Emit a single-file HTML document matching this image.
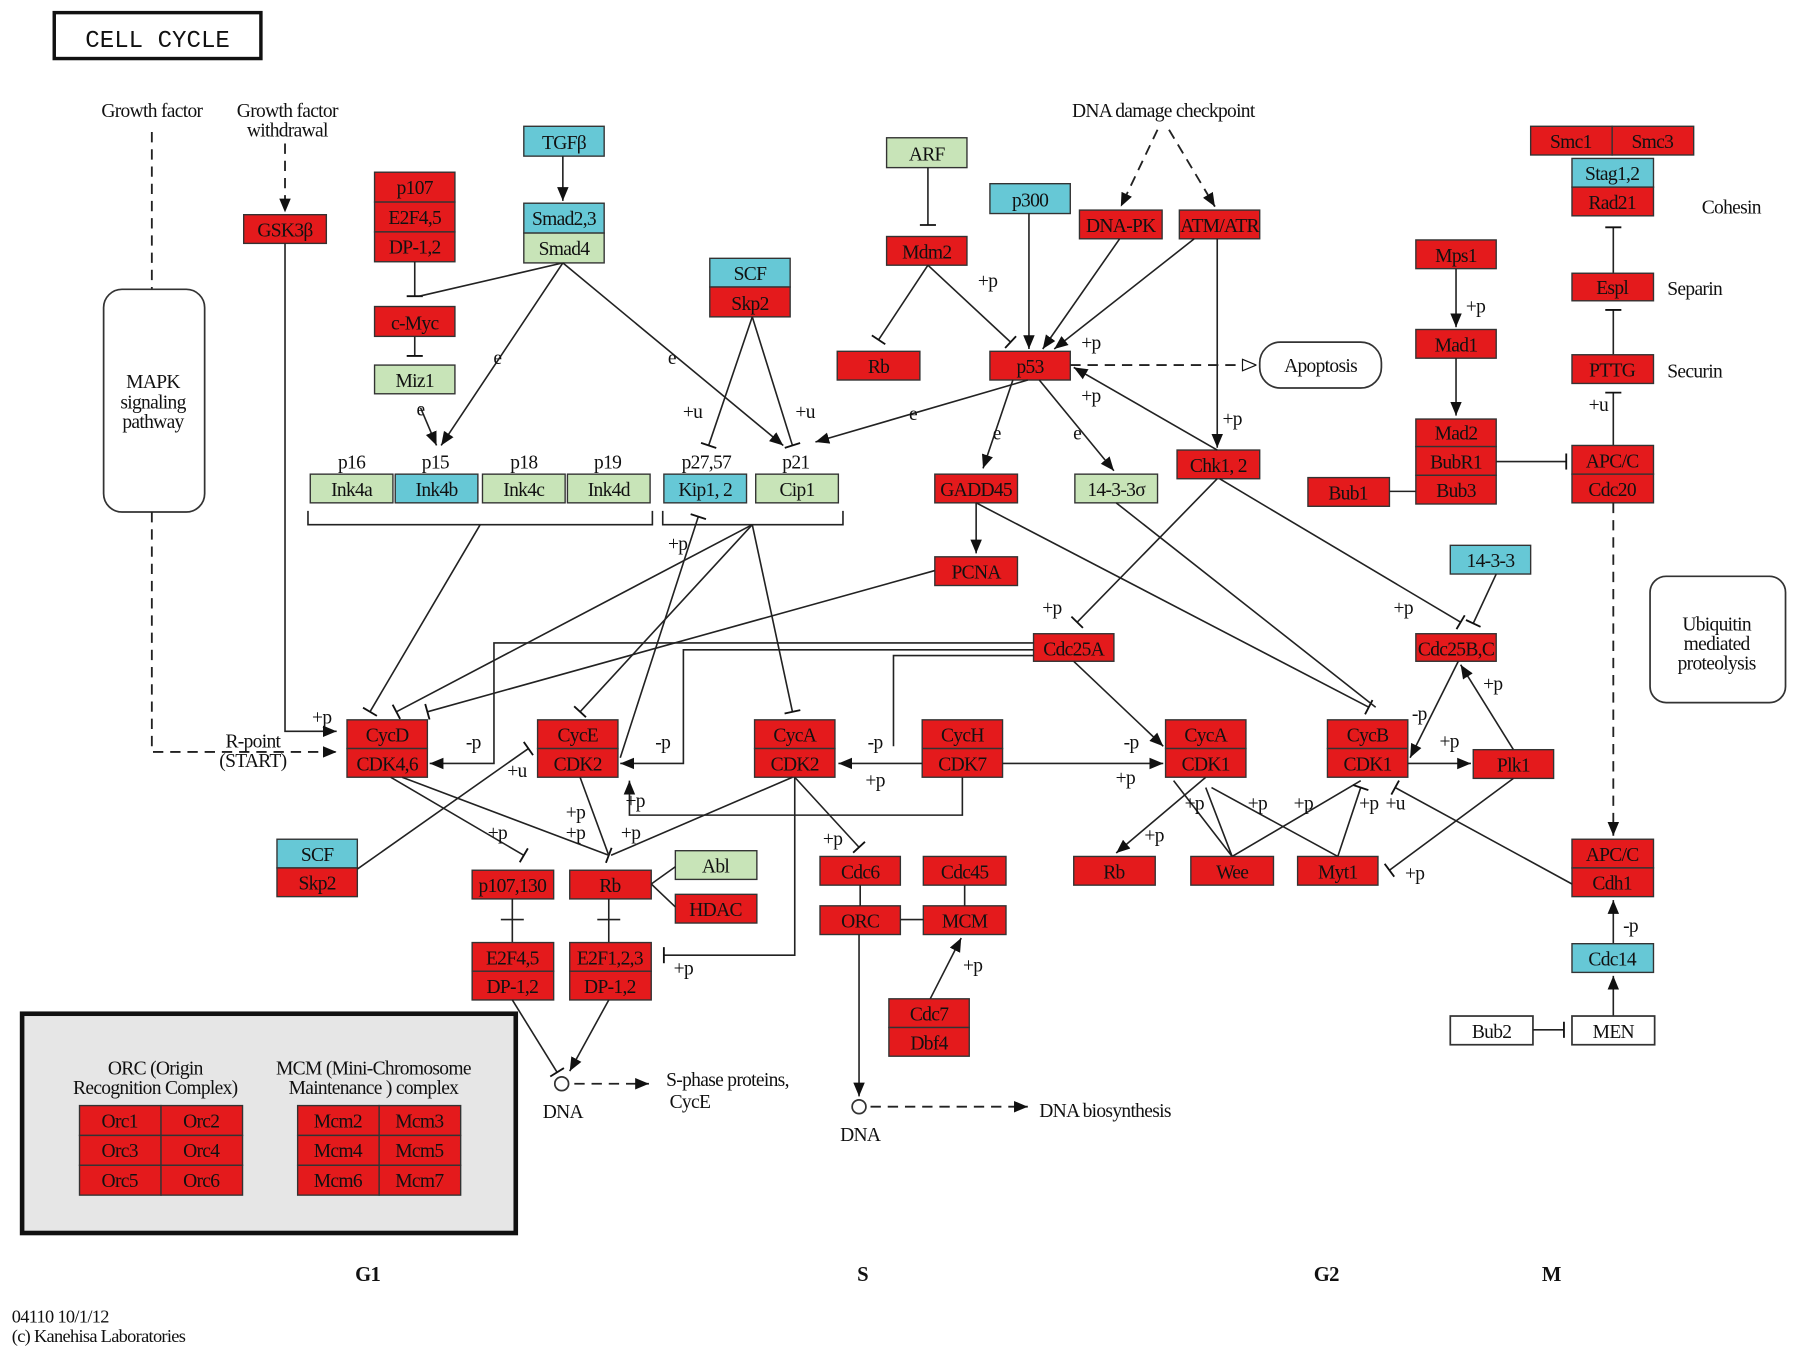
<!DOCTYPE html>
<html><head><meta charset="utf-8"><style>
html,body{margin:0;padding:0;background:#fff}
svg{display:block}
text{font-family:"Liberation Serif",serif;font-size:17px;fill:#111;letter-spacing:-0.6px}
.c{text-anchor:middle}
.r{fill:#e41a1c;stroke:#333;stroke-width:1.2}
.b{fill:#66c8d6;stroke:#333;stroke-width:1.2}
.g{fill:#c8e4b8;stroke:#333;stroke-width:1.2}
.w{fill:#fff;stroke:#333;stroke-width:1.5}
.l{stroke:#222;stroke-width:1.4;fill:none}
.d{stroke:#222;stroke-width:1.6;fill:none;stroke-dasharray:9,6}
</style></head><body>
<svg width="1795" height="1357" viewBox="0 0 1563 1182" xmlns="http://www.w3.org/2000/svg">
<defs>
<marker id="a" viewBox="-12 -6 12 12" markerWidth="12" markerHeight="12" refX="0" refY="0" orient="auto" markerUnits="userSpaceOnUse"><path d="M-12,-5 L0,0 L-12,5z" fill="#111"/></marker>
<marker id="o" viewBox="-14 -7 14 14" markerWidth="14" markerHeight="14" refX="0" refY="0" orient="auto" markerUnits="userSpaceOnUse"><path d="M-12,-5 L0,0 L-12,5z" fill="#fff" stroke="#111"/></marker>
<marker id="t" viewBox="-2 -8 4 16" markerWidth="4" markerHeight="16" refX="0" refY="0" orient="auto" markerUnits="userSpaceOnUse"><path d="M0,-7 L0,7" stroke="#111" stroke-width="1.6"/></marker>
</defs>

<rect x="47" y="11" width="180" height="40" fill="#fff" stroke="#111" stroke-width="3"/>
<text x="137" y="41" class="c" style="font-family:'Liberation Mono',monospace;font-size:21px;letter-spacing:0">CELL CYCLE</text>

<text x="132" y="102" class="c">Growth factor</text>
<text x="250" y="102" class="c">Growth factor</text>
<text x="250" y="119" class="c">withdrawal</text>
<path class="d" d="M132,115 V252"/>
<rect x="90" y="252" width="88" height="194" rx="16" class="w"/>
<text x="133" y="338" class="c">MAPK</text><text x="133" y="356" class="c">signaling</text><text x="133" y="373" class="c">pathway</text>
<path class="d" d="M132,446 V655 H293" marker-end="url(#a)"/>
<text x="220" y="651" class="c">R-point</text><text x="220" y="668" class="c">(START)</text>
<path class="d" d="M248,125 V185" marker-end="url(#a)"/>
<rect x="212" y="187" width="72" height="25" class="r"/><text x="248" y="206" class="c">GSK3β</text>
<path class="l" d="M248,212 V637 H293" marker-end="url(#a)"/><text x="280" y="630" class="c">+p</text>

<rect x="326" y="150" width="70" height="26" class="r"/><text x="361" y="169" class="c">p107</text>
<rect x="326" y="176" width="70" height="26" class="r"/><text x="361" y="195" class="c">E2F4,5</text>
<rect x="326" y="202" width="70" height="26" class="r"/><text x="361" y="221" class="c">DP-1,2</text>
<path class="l" d="M361,228 V258" marker-end="url(#t)"/>
<path class="l" d="M490,229 L365,258"/>
<rect x="326" y="267" width="70" height="26" class="r"/><text x="361" y="287" class="c">c-Myc</text>
<path class="l" d="M361,293 V310" marker-end="url(#t)"/>
<rect x="326" y="318" width="70" height="25" class="g"/><text x="361" y="337" class="c">Miz1</text>
<path class="l" d="M366,355 L380,388" marker-end="url(#a)"/><text x="366" y="362" class="c">e</text>

<rect x="456" y="110" width="70" height="26" class="b"/><text x="491" y="130" class="c">TGFβ</text>
<path class="l" d="M490,136 V175" marker-end="url(#a)"/>
<rect x="456" y="177" width="70" height="26" class="b"/><text x="491" y="196" class="c">Smad2,3</text>
<rect x="456" y="203" width="70" height="26" class="g"/><text x="491" y="222" class="c">Smad4</text>
<path class="l" d="M490,229 L384,388" marker-end="url(#a)"/><text x="433" y="317" class="c">e</text>
<path class="l" d="M490,229 L682,388" marker-end="url(#a)"/><text x="585" y="317" class="c">e</text>

<text x="306" y="408" class="c">p16</text><text x="379" y="408" class="c">p15</text><text x="456" y="408" class="c">p18</text><text x="529" y="408" class="c">p19</text>
<rect x="270" y="413" width="72" height="25" class="g"/><text x="306" y="432" class="c">Ink4a</text>
<rect x="344" y="413" width="72" height="25" class="b"/><text x="380" y="432" class="c">Ink4b</text>
<rect x="420" y="413" width="72" height="25" class="g"/><text x="456" y="432" class="c">Ink4c</text>
<rect x="494" y="413" width="72" height="25" class="g"/><text x="530" y="432" class="c">Ink4d</text>
<path class="l" d="M268,445 V457 H568 V445"/>
<text x="615" y="408" class="c">p27,57</text><text x="693" y="408" class="c">p21</text>
<rect x="578" y="413" width="72" height="25" class="b"/><text x="614" y="432" class="c">Kip1, 2</text>
<rect x="658" y="413" width="72" height="25" class="g"/><text x="694" y="432" class="c">Cip1</text>
<path class="l" d="M577,445 V457 H734 V445"/>

<rect x="618" y="225" width="70" height="25" class="b"/><text x="653" y="244" class="c">SCF</text>
<rect x="618" y="250" width="70" height="26" class="r"/><text x="653" y="270" class="c">Skp2</text>
<path class="l" d="M655,276 L617,388" marker-end="url(#t)"/><text x="603" y="364" class="c">+u</text>
<path class="l" d="M655,276 L690,388" marker-end="url(#t)"/><text x="701" y="364" class="c">+u</text>

<rect x="772" y="120" width="70" height="26" class="g"/><text x="807" y="140" class="c">ARF</text>
<path class="l" d="M808,146 V196" marker-end="url(#t)"/>
<rect x="772" y="206" width="70" height="25" class="r"/><text x="807" y="225" class="c">Mdm2</text>
<path class="l" d="M808,231 L765,296" marker-end="url(#t)"/>
<path class="l" d="M808,231 L880,298" marker-end="url(#t)"/><text x="860" y="250" class="c">+p</text>
<rect x="729" y="306" width="72" height="25" class="r"/><text x="765" y="325" class="c">Rb</text>
<rect x="862" y="160" width="70" height="26" class="b"/><text x="897" y="180" class="c">p300</text>
<path class="l" d="M896,186 V304" marker-end="url(#a)"/>
<rect x="862" y="306" width="70" height="25" class="r"/><text x="897" y="325" class="c">p53</text>
<text x="1013" y="102" class="c">DNA damage checkpoint</text>
<path class="d" d="M1008,113 L976,180" marker-end="url(#a)"/>
<path class="d" d="M1018,113 L1058,180" marker-end="url(#a)"/>
<rect x="940" y="183" width="72" height="25" class="r"/><text x="976" y="202" class="c">DNA-PK</text>
<rect x="1027" y="183" width="70" height="25" class="r"/><text x="1062" y="202" class="c">ATM/ATR</text>
<path class="l" d="M975,208 L908,304" marker-end="url(#a)"/>
<path class="l" d="M1040,208 L918,304" marker-end="url(#a)"/><text x="950" y="304" class="c">+p</text>
<path class="l" d="M1060,208 V390" marker-end="url(#a)"/><text x="1073" y="370" class="c">+p</text>
<rect x="1025" y="392" width="72" height="25" class="r"/><text x="1061" y="411" class="c">Chk1, 2</text>
<path class="d" d="M932,318 H1094" marker-end="url(#o)"/>
<rect x="1097" y="298" width="106" height="40" rx="18" class="w"/><text x="1150" y="324" class="c">Apoptosis</text>
<path class="l" d="M1060,392 L935,320" marker-end="url(#a)"/><text x="950" y="350" class="c">+p</text>
<path class="l" d="M895,331 L710,385" marker-end="url(#a)"/><text x="795" y="366" class="c">e</text>
<path class="l" d="M882,331 L856,408" marker-end="url(#a)"/><text x="868" y="383" class="c">e</text>
<path class="l" d="M905,331 L970,410" marker-end="url(#a)"/><text x="938" y="383" class="c">e</text>
<rect x="814" y="413" width="72" height="25" class="r"/><text x="850" y="432" class="c">GADD45</text>
<rect x="936" y="413" width="72" height="25" class="g"/><text x="972" y="432" class="c">14-3-3σ</text>
<path class="l" d="M850,438 V482" marker-end="url(#a)"/>
<rect x="814" y="485" width="72" height="25" class="r"/><text x="850" y="504" class="c">PCNA</text>
<path class="l" d="M814,497 L372,620" marker-end="url(#t)"/>
<path class="l" d="M850,438 L1192,616" marker-end="url(#t)"/>
<path class="l" d="M972,438 L1198,616"/>
<path class="l" d="M1060,417 L938,542" marker-end="url(#t)"/><text x="916" y="535" class="c">+p</text>
<path class="l" d="M1062,417 L1272,542" marker-end="url(#t)"/><text x="1222" y="535" class="c">+p</text>
<rect x="900" y="552" width="70" height="24" class="r"/><text x="935" y="571" class="c">Cdc25A</text>
<rect x="1233" y="552" width="70" height="24" class="r"/><text x="1268" y="571" class="c">Cdc25B,C</text>
<rect x="1263" y="475" width="70" height="25" class="b"/><text x="1298" y="494" class="c">14-3-3</text>
<path class="l" d="M1303,500 L1283,543" marker-end="url(#t)"/>

<rect x="1333" y="110" width="71" height="25" class="r"/><text x="1368" y="129" class="c">Smc1</text>
<rect x="1404" y="110" width="71" height="25" class="r"/><text x="1439" y="129" class="c">Smc3</text>
<rect x="1369" y="138" width="71" height="25" class="b"/><text x="1404" y="157" class="c">Stag1,2</text>
<rect x="1369" y="163" width="71" height="25" class="r"/><text x="1404" y="182" class="c">Rad21</text>
<text x="1482" y="186">Cohesin</text>
<path class="l" d="M1405,238 V198" marker-end="url(#t)"/>
<rect x="1369" y="238" width="71" height="24" class="r"/><text x="1404" y="256" class="c">Espl</text><text x="1452" y="257">Separin</text>
<path class="l" d="M1405,309 V270" marker-end="url(#t)"/>
<rect x="1369" y="309" width="71" height="25" class="r"/><text x="1404" y="328" class="c">PTTG</text><text x="1452" y="329">Securin</text>
<path class="l" d="M1405,388 V342" marker-end="url(#t)"/><text x="1392" y="358" class="c">+u</text>
<rect x="1369" y="388" width="71" height="25" class="r"/><text x="1404" y="407" class="c">APC/C</text>
<rect x="1369" y="413" width="71" height="25" class="r"/><text x="1404" y="432" class="c">Cdc20</text>
<rect x="1233" y="209" width="70" height="25" class="r"/><text x="1268" y="228" class="c">Mps1</text>
<path class="l" d="M1268,234 V285" marker-end="url(#a)"/><text x="1285" y="272" class="c">+p</text>
<rect x="1233" y="287" width="70" height="25" class="r"/><text x="1268" y="306" class="c">Mad1</text>
<path class="l" d="M1268,312 V362" marker-end="url(#a)"/>
<rect x="1233" y="365" width="70" height="24" class="r"/><text x="1268" y="383" class="c">Mad2</text>
<rect x="1233" y="389" width="70" height="25" class="r"/><text x="1268" y="408" class="c">BubR1</text>
<rect x="1233" y="414" width="70" height="25" class="r"/><text x="1268" y="433" class="c">Bub3</text>
<rect x="1139" y="416" width="71" height="25" class="r"/><text x="1174" y="435" class="c">Bub1</text>
<path class="l" d="M1210,428 H1233"/>
<path class="l" d="M1303,402 H1364" marker-end="url(#t)"/>
<rect x="1437" y="502" width="118" height="110" rx="14" class="w"/>
<text x="1495" y="549" class="c">Ubiquitin</text><text x="1495" y="566" class="c">mediated</text><text x="1495" y="583" class="c">proteolysis</text>
<path class="d" d="M1405,438 V728" marker-end="url(#a)"/>
<rect x="1369" y="731" width="71" height="25" class="r"/><text x="1404" y="750" class="c">APC/C</text>
<rect x="1369" y="756" width="71" height="25" class="r"/><text x="1404" y="775" class="c">Cdh1</text>
<path class="l" d="M1405,822 V784" marker-end="url(#a)"/><text x="1420" y="812" class="c">-p</text>
<rect x="1369" y="822" width="71" height="25" class="b"/><text x="1404" y="841" class="c">Cdc14</text>
<path class="l" d="M1405,885 V850" marker-end="url(#a)"/>
<rect x="1369" y="885" width="72" height="25" class="w"/><text x="1405" y="904" class="c">MEN</text>
<rect x="1263" y="885" width="72" height="25" class="w"/><text x="1299" y="904" class="c">Bub2</text>
<path class="l" d="M1335,897 H1362" marker-end="url(#t)"/>

<!-- CDK row -->
<rect x="302" y="627" width="70" height="25" class="r"/><text x="337" y="646" class="c">CycD</text>
<rect x="302" y="652" width="70" height="25" class="r"/><text x="337" y="671" class="c">CDK4,6</text>
<rect x="468" y="627" width="70" height="25" class="r"/><text x="503" y="646" class="c">CycE</text>
<rect x="468" y="652" width="70" height="25" class="r"/><text x="503" y="671" class="c">CDK2</text>
<rect x="657" y="627" width="70" height="25" class="r"/><text x="692" y="646" class="c">CycA</text>
<rect x="657" y="652" width="70" height="25" class="r"/><text x="692" y="671" class="c">CDK2</text>
<rect x="803" y="627" width="70" height="25" class="r"/><text x="838" y="646" class="c">CycH</text>
<rect x="803" y="652" width="70" height="25" class="r"/><text x="838" y="671" class="c">CDK7</text>
<rect x="1015" y="627" width="70" height="25" class="r"/><text x="1050" y="646" class="c">CycA</text>
<rect x="1015" y="652" width="70" height="25" class="r"/><text x="1050" y="671" class="c">CDK1</text>
<rect x="1156" y="627" width="70" height="25" class="r"/><text x="1191" y="646" class="c">CycB</text>
<rect x="1156" y="652" width="70" height="25" class="r"/><text x="1191" y="671" class="c">CDK1</text>
<rect x="1283" y="653" width="70" height="25" class="r"/><text x="1318" y="672" class="c">Plk1</text>

<path class="l" d="M418,457 L322,620" marker-end="url(#t)"/>
<path class="l" d="M655,457 L345,620" marker-end="url(#t)"/>
<path class="l" d="M655,457 L505,620" marker-end="url(#t)"/>
<path class="l" d="M655,457 L690,620" marker-end="url(#t)"/>
<path class="l" d="M540,660 L608,450" marker-end="url(#t)"/><text x="590" y="479" class="c">+p</text>
<path class="l" d="M900,560 H430 V665 H374" marker-end="url(#a)"/><text x="412" y="652" class="c">-p</text>
<path class="l" d="M900,566 H595 V665 H540" marker-end="url(#a)"/><text x="577" y="652" class="c">-p</text>
<path class="l" d="M900,571 H778 V650"/>
<path class="l" d="M803,665 H730" marker-end="url(#a)"/><text x="762" y="652" class="c">-p</text><text x="762" y="685" class="c">+p</text>
<path class="l" d="M873,665 H1013" marker-end="url(#a)"/><text x="980" y="683" class="c">+p</text>
<path class="l" d="M935,576 L1013,650" marker-end="url(#a)"/><text x="985" y="652" class="c">-p</text>
<path class="l" d="M838,677 V710 H548 V680" marker-end="url(#a)"/><text x="553" y="703" class="c">+p</text>
<path class="l" d="M1270,576 L1228,660" marker-end="url(#a)"/><text x="1236" y="627" class="c">-p</text>
<path class="l" d="M1318,653 L1272,579" marker-end="url(#a)"/><text x="1300" y="601" class="c">+p</text>
<path class="l" d="M1226,665 H1281" marker-end="url(#a)"/><text x="1262" y="651" class="c">+p</text>
<path class="l" d="M1050,677 L972,743" marker-end="url(#a)"/><text x="1005" y="733" class="c">+p</text>
<rect x="935" y="746" width="71" height="25" class="r"/><text x="970" y="765" class="c">Rb</text>
<rect x="1037" y="746" width="72" height="25" class="r"/><text x="1073" y="765" class="c">Wee</text>
<rect x="1130" y="746" width="70" height="25" class="r"/><text x="1165" y="765" class="c">Myt1</text>
<path class="l" d="M1073,746 L1022,680 M1073,746 L1050,686 M1073,746 L1185,680 M1165,746 L1055,686 M1165,746 L1185,686" marker-end="url(#t)"/>
<text x="1040" y="705" class="c">+p</text><text x="1095" y="705" class="c">+p</text><text x="1135" y="705" class="c">+p</text><text x="1192" y="705" class="c">+p</text><text x="1215" y="705" class="c">+u</text>
<path class="l" d="M1369,770 L1215,686" marker-end="url(#t)"/>
<path class="l" d="M1318,678 L1210,758" marker-end="url(#t)"/><text x="1232" y="766" class="c">+p</text>

<rect x="241" y="731" width="70" height="25" class="b"/><text x="276" y="750" class="c">SCF</text>
<rect x="241" y="756" width="70" height="25" class="r"/><text x="276" y="775" class="c">Skp2</text>
<path class="l" d="M311,757 L460,652" marker-end="url(#t)"/><text x="450" y="677" class="c">+u</text>
<path class="l" d="M340,677 L456,745" marker-end="url(#t)"/><text x="433" y="731" class="c">+p</text>
<path class="l" d="M350,677 L530,745" marker-end="url(#t)"/>
<path class="l" d="M505,677 L530,745"/><text x="501" y="713" class="c">+p</text><text x="501" y="731" class="c">+p</text>
<path class="l" d="M690,677 L532,745"/><text x="549" y="731" class="c">+p</text>
<path class="l" d="M692,677 L748,738" marker-end="url(#t)"/><text x="725" y="736" class="c">+p</text>
<rect x="411" y="758" width="71" height="25" class="r"/><text x="446" y="777" class="c">p107,130</text>
<rect x="496" y="758" width="71" height="25" class="r"/><text x="531" y="777" class="c">Rb</text>
<rect x="588" y="741" width="71" height="25" class="g"/><text x="623" y="760" class="c">Abl</text>
<rect x="588" y="779" width="71" height="25" class="r"/><text x="623" y="798" class="c">HDAC</text>
<path class="l" d="M567,770 L588,755 M567,770 L588,790"/>
<path class="l" d="M446,783 V821 M436,801 H456 M530,783 V821 M520,801 H540"/>
<rect x="411" y="821" width="71" height="25" class="r"/><text x="446" y="840" class="c">E2F4,5</text>
<rect x="411" y="846" width="71" height="25" class="r"/><text x="446" y="865" class="c">DP-1,2</text>
<rect x="496" y="821" width="71" height="25" class="r"/><text x="531" y="840" class="c">E2F1,2,3</text>
<rect x="496" y="846" width="71" height="25" class="r"/><text x="531" y="865" class="c">DP-1,2</text>
<path class="l" d="M692,677 V832 H578" marker-end="url(#t)"/><text x="595" y="849" class="c">+p</text>
<path class="l" d="M446,871 L485,934" marker-end="url(#t)"/>
<path class="l" d="M530,871 L496,933" marker-end="url(#a)"/>
<circle cx="489" cy="944" r="6" class="w"/><text x="490" y="974" class="c">DNA</text>
<path class="d" d="M500,944 H565" marker-end="url(#a)"/>
<text x="580" y="946">S-phase proteins,</text><text x="583" y="965">CycE</text>

<rect x="714" y="746" width="70" height="25" class="r"/><text x="749" y="765" class="c">Cdc6</text>
<rect x="804" y="746" width="72" height="25" class="r"/><text x="840" y="765" class="c">Cdc45</text>
<rect x="714" y="789" width="70" height="25" class="r"/><text x="749" y="808" class="c">ORC</text>
<rect x="804" y="789" width="72" height="25" class="r"/><text x="840" y="808" class="c">MCM</text>
<path class="l" d="M749,771 V789 M840,771 V789 M784,801 H804"/>
<rect x="774" y="870" width="70" height="25" class="r"/><text x="809" y="889" class="c">Cdc7</text>
<rect x="774" y="895" width="70" height="25" class="r"/><text x="809" y="914" class="c">Dbf4</text>
<path class="l" d="M810,870 L837,817" marker-end="url(#a)"/><text x="847" y="846" class="c">+p</text>
<path class="l" d="M748,814 V955" marker-end="url(#a)"/>
<circle cx="748" cy="964" r="6" class="w"/><text x="749" y="994" class="c">DNA</text>
<path class="d" d="M758,964 H895" marker-end="url(#a)"/><text x="905" y="973">DNA biosynthesis</text>

<rect x="19" y="883" width="430" height="191" fill="#e6e6e6" stroke="#111" stroke-width="4"/>
<text x="135" y="936" class="c">ORC (Origin</text><text x="135" y="953" class="c">Recognition Complex)</text>
<text x="325" y="936" class="c">MCM (Mini-Chromosome</text><text x="325" y="953" class="c">Maintenance ) complex</text>
<g>
<rect x="69" y="963" width="71" height="26" class="r"/><text x="104" y="982" class="c">Orc1</text>
<rect x="140" y="963" width="71" height="26" class="r"/><text x="175" y="982" class="c">Orc2</text>
<rect x="69" y="989" width="71" height="26" class="r"/><text x="104" y="1008" class="c">Orc3</text>
<rect x="140" y="989" width="71" height="26" class="r"/><text x="175" y="1008" class="c">Orc4</text>
<rect x="69" y="1015" width="71" height="26" class="r"/><text x="104" y="1034" class="c">Orc5</text>
<rect x="140" y="1015" width="71" height="26" class="r"/><text x="175" y="1034" class="c">Orc6</text>
<rect x="259" y="963" width="71" height="26" class="r"/><text x="294" y="982" class="c">Mcm2</text>
<rect x="330" y="963" width="71" height="26" class="r"/><text x="365" y="982" class="c">Mcm3</text>
<rect x="259" y="989" width="71" height="26" class="r"/><text x="294" y="1008" class="c">Mcm4</text>
<rect x="330" y="989" width="71" height="26" class="r"/><text x="365" y="1008" class="c">Mcm5</text>
<rect x="259" y="1015" width="71" height="26" class="r"/><text x="294" y="1034" class="c">Mcm6</text>
<rect x="330" y="1015" width="71" height="26" class="r"/><text x="365" y="1034" class="c">Mcm7</text>
</g>

<text x="320" y="1116" class="c" style="font-weight:bold;font-size:18px">G1</text>
<text x="751" y="1116" class="c" style="font-weight:bold;font-size:18px">S</text>
<text x="1155" y="1116" class="c" style="font-weight:bold;font-size:18px">G2</text>
<text x="1351" y="1116" class="c" style="font-weight:bold;font-size:18px">M</text>
<text x="10" y="1152" style="font-size:16px">04110 10/1/12</text>
<text x="10" y="1169" style="font-size:16px">(c) Kanehisa Laboratories</text>
</svg>
</body></html>
